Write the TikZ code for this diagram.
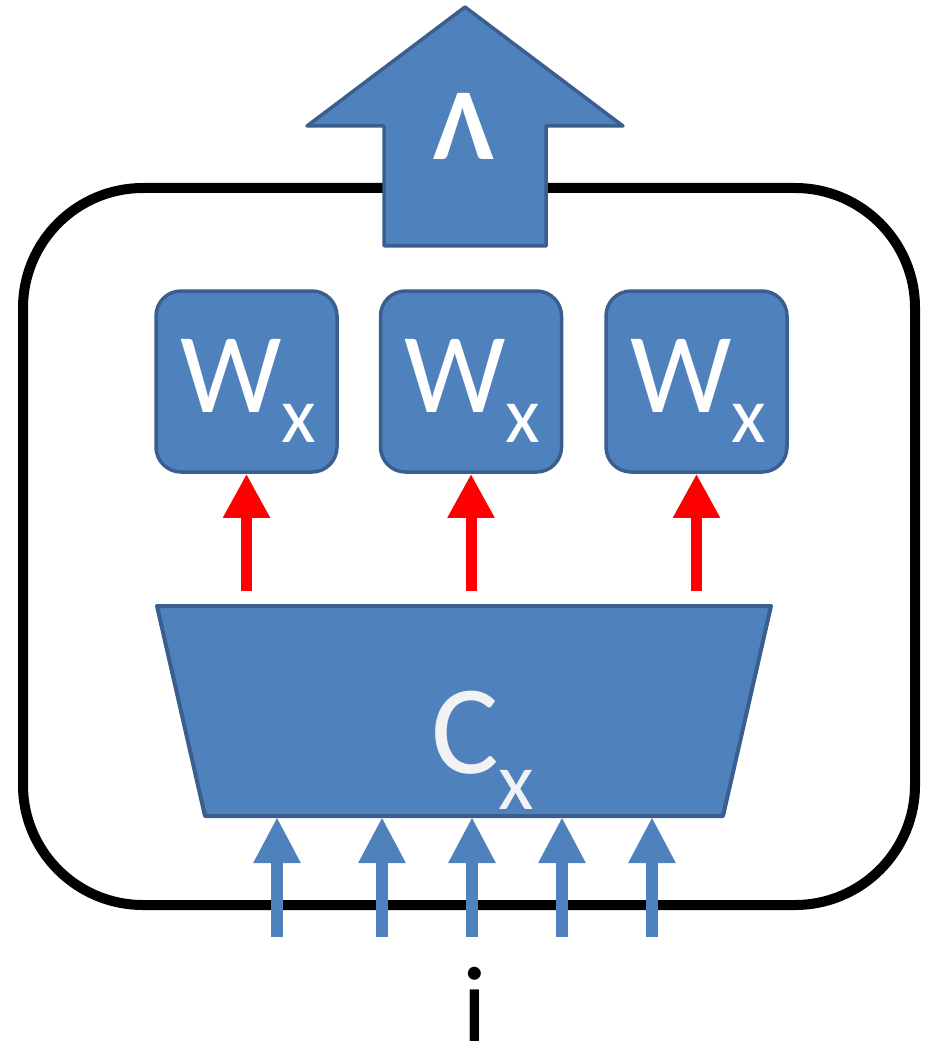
\documentclass[tikz,border=0pt]{standalone}
\usepackage{fontspec}
\setmainfont{Carlito}
\usetikzlibrary{arrows.meta}
\definecolor{fillblue}{HTML}{4F81BD}
\definecolor{edgeblue}{HTML}{3A5F8F}
\definecolor{cgray}{HTML}{F2F2F2}
\tikzset{
  frame/.style={draw=black, line width=10pt, rounded corners=120pt},
  bigarrow/.style={draw=edgeblue, fill=fillblue, line width=3.5pt, line join=round},
  wbox/.style={draw=edgeblue, fill=fillblue, line width=3.5pt, rounded corners=25pt,
    minimum width=181pt, minimum height=181pt, inner sep=0pt},
  wtext/.style={text=white, inner sep=0pt, anchor=base west},
  cshape/.style={draw=edgeblue, fill=fillblue, line width=4pt, line join=round},
  redarrow/.style={draw=red, line width=11pt, -{Triangle[length=44pt,width=44pt]}},
  bluearrow/.style={draw=fillblue, line width=12.5pt, -{Triangle[length=46pt,width=44pt]}},
}
\newcommand{\wlabel}{{\fontsize{114}{114}\selectfont W}\raisebox{-30pt}{\fontsize{80}{80}\selectfont x}}
\begin{document}
\begin{tikzpicture}[x=1pt,y=-1pt]
\useasboundingbox (0,0) rectangle (938,1048);
% outer frame
\draw[frame] (23,188) rectangle (915,905);
% top output arrow
\draw[bigarrow] (465,7) -- (623,126) -- (546,126) -- (546,246) -- (384,246) -- (384,126) -- (307,126) -- cycle;
\node[text=white, inner sep=0pt, anchor=base] (lam) at (464,160) {\fontsize{102}{102}\selectfont\bfseries Λ};
% W boxes
\node[wbox] (w1) at (246.5,381.5) {};
\node[wbox] (w2) at (471,381.5) {};
\node[wbox] (w3) at (696.5,381.5) {};
\node[wtext] (t1) at (180,412) {\wlabel};
\node[wtext] (t2) at (404,412) {\wlabel};
\node[wtext] (t3) at (630,412) {\wlabel};
% trapezoid C
\draw[cshape] (157,606) coordinate (ctl) -- (771,606) coordinate (ctr) -- (723,816) coordinate (cbr) -- (205,816) coordinate (cbl) -- cycle;
\node[text=cgray, inner sep=0pt, anchor=base west] (ct) at (431,773) {{\fontsize{127}{127}\selectfont C}\raisebox{-36pt}{\fontsize{82}{82}\selectfont x}};
% red arrows
\coordinate (r1) at (246.5,591);
\coordinate (r2) at (471,591);
\coordinate (r3) at (696.5,591);
\draw[redarrow] (r1) -- (w1.south);
\draw[redarrow] (r2) -- (w2.south);
\draw[redarrow] (r3) -- (w3.south);
% input arrows
\foreach \x [count=\k] in {277,382,472,562,652}{
  \coordinate (s\k) at (\x,937);
  \coordinate (e\k) at (\x,817);
  \draw[bluearrow] (s\k) -- (e\k);
}
% input label
\node[inner sep=0pt, anchor=base] (lbl) at (475,1041) {\fontsize{108}{108}\selectfont i};
\end{tikzpicture}
\end{document}
